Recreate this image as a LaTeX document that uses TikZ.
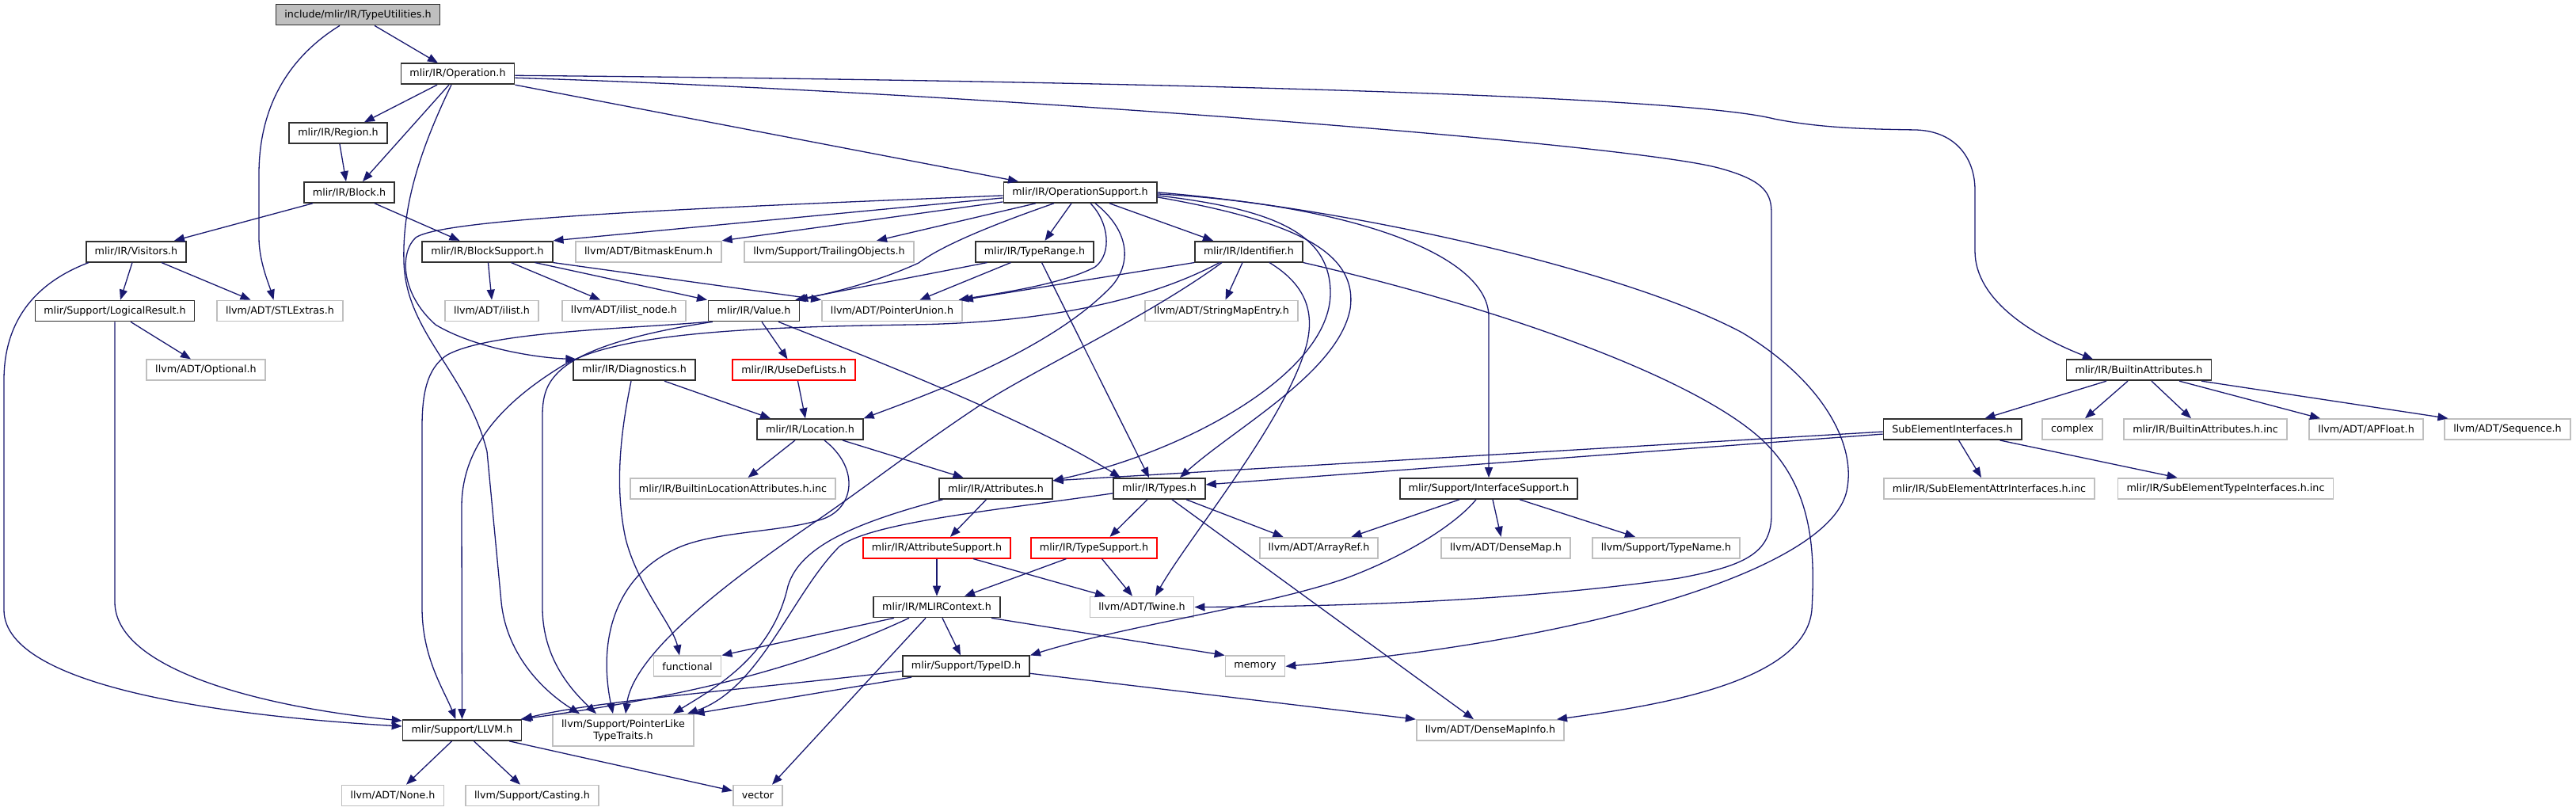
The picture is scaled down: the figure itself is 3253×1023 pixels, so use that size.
\documentclass[tikz,border=0pt]{standalone}
\usepackage{fontspec}
\newfontfamily\dxfont{DejaVu Sans}
\usetikzlibrary{arrows.meta}
\definecolor{edgecol}{HTML}{191970}
\definecolor{greyb}{HTML}{BFBFBF}
\definecolor{darkb}{HTML}{303030}
\tikzset{
  base/.style={rectangle, draw, line width=1.7pt, minimum height=26pt, inner xsep=11pt, inner ysep=2pt,
    font=\dxfont\fontsize{12.7}{15}\selectfont, fill=white, text=black},
  doc/.style={base, draw=darkb},
  ext/.style={base, draw=greyb},
  trunc/.style={base, draw=red},
  root/.style={base, draw=darkb, fill=greyb},
  e/.style={draw=edgecol, line width=1.3pt, -{Triangle[length=13pt,width=10pt]}}
}
\begin{document}
\begin{tikzpicture}[x=1pt,y=-1pt]
\fill[white] (0,0) rectangle (3253,1023);
\useasboundingbox (0,0) rectangle (3253,1023);
% ---------- nodes ----------
\node[root] (TU) at (452,18.5) {include/mlir/IR/TypeUtilities.h};
\node[doc] (Op) at (578,93.3) {mlir/IR/Operation.h};
\node[doc] (Reg) at (427,168.1) {mlir/IR/Region.h};
\node[doc] (Blk) at (441,242.9) {mlir/IR/Block.h};
\node[doc] (OpS) at (1364,242.9) {mlir/IR/OperationSupport.h};
\node[doc] (Vis) at (172,317.7) {mlir/IR/Visitors.h};
\node[doc] (BS) at (615.5,317.7) {mlir/IR/BlockSupport.h};
\node[ext] (BME) at (819,317.7) {llvm/ADT/BitmaskEnum.h};
\node[ext] (TO) at (1047,317.7) {llvm/Support/TrailingObjects.h};
\node[doc] (TR) at (1306.5,317.7) {mlir/IR/TypeRange.h};
\node[doc] (Id) at (1577,317.7) {mlir/IR/Identifier.h};
\node[doc] (LR) at (145,392.5) {mlir/Support/LogicalResult.h};
\node[ext] (STL) at (353.5,392.5) {llvm/ADT/STLExtras.h};
\node[ext] (il) at (621,392.5) {llvm/ADT/ilist.h};
\node[ext] (iln) at (788,392.5) {llvm/ADT/ilist\_node.h};
\node[doc] (Val) at (952,392.5) {mlir/IR/Value.h};
\node[ext] (PU) at (1126.5,392.5) {llvm/ADT/PointerUnion.h};
\node[ext] (SME) at (1542.5,392.5) {llvm/ADT/StringMapEntry.h};
\node[ext] (Opt) at (260,467.3) {llvm/ADT/Optional.h};
\node[doc] (Diag) at (801,467.3) {mlir/IR/Diagnostics.h};
\node[trunc] (UDL) at (1002.5,467.3) {mlir/IR/UseDefLists.h};
\node[doc] (BA) at (2701,467.3) {mlir/IR/BuiltinAttributes.h};
\node[doc] (Loc) at (1023,542.1) {mlir/IR/Location.h};
\node[doc] (SEI) at (2465.5,542.1) {SubElementInterfaces.h};
\node[ext] (cplx) at (2617,542.1) {complex};
\node[ext] (BAinc) at (2785,542.1) {mlir/IR/BuiltinAttributes.h.inc};
\node[ext] (APF) at (2988,542.1) {llvm/ADT/APFloat.h};
\node[ext] (Seq) at (3166.5,542.1) {llvm/ADT/Sequence.h};
\node[ext] (BLA) at (925.5,616.9) {mlir/IR/BuiltinLocationAttributes.h.inc};
\node[doc] (Attr) at (1257.5,616.9) {mlir/IR/Attributes.h};
\node[doc] (Ty) at (1464,616.9) {mlir/IR/Types.h};
\node[doc] (IS) at (1880,616.9) {mlir/Support/InterfaceSupport.h};
\node[ext] (SEA) at (2512,616.9) {mlir/IR/SubElementAttrInterfaces.h.inc};
\node[ext] (SET) at (2810.5,616.9) {mlir/IR/SubElementTypeInterfaces.h.inc};
\node[trunc] (AS) at (1183,691.7) {mlir/IR/AttributeSupport.h};
\node[trunc] (TS) at (1381.5,691.7) {mlir/IR/TypeSupport.h};
\node[ext] (AR) at (1665.5,691.7) {llvm/ADT/ArrayRef.h};
\node[ext] (DM) at (1901.5,691.7) {llvm/ADT/DenseMap.h};
\node[ext] (TN) at (2104,691.7) {llvm/Support/TypeName.h};
\node[doc] (MC) at (1183,766.5) {mlir/IR/MLIRContext.h};
\node[ext] (Tw) at (1442,766.5) {llvm/ADT/Twine.h};
\node[ext] (fun) at (868,841.3) {functional};
\node[doc] (TID) at (1220,841.3) {mlir/Support/TypeID.h};
\node[ext] (mem) at (1585,841.3) {memory};
\node[doc] (LLVM) at (583.5,922) {mlir/Support/LLVM.h};
\node[ext, align=center, minimum height=40pt] (PL) at (787,922) {llvm/Support/PointerLike\\TypeTraits.h};
\node[ext] (DMI) at (1882,922) {llvm/ADT/DenseMapInfo.h};
\node[ext] (None) at (496,1004.5) {llvm/ADT/None.h};
\node[ext] (Cast) at (672,1004.5) {llvm/Support/Casting.h};
\node[ext] (vec) at (957,1004.5) {vector};
% ---------- edges ----------
% TypeUtilities
\draw[e] ([xshift=21pt]TU.south) -- ([xshift=-25pt]Op.north);
\draw[e] ([xshift=-23pt]TU.south) .. controls (360,75) and (327,140) .. (327,220) -- (327,300) .. controls (327,330) and (340,360) .. ([xshift=-8pt]STL.north);
% Operation
\draw[e] ([xshift=-26pt]Op.south) -- ([xshift=33pt]Reg.north);
\draw[e] ([xshift=-11pt]Op.south) -- ([xshift=17pt]Blk.north);
\draw[e] (Op.south east) -- ([xshift=-78pt]OpS.north);
\draw[e] ([xshift=-8pt]Op.south) .. controls (530,190) and (508,260) .. (510,330) .. controls (512,420) and (590,470) .. (615,570) -- (633,760) .. controls (640,830) and (690,875) .. ([xshift=-55pt]PL.north);
\draw[e] ([yshift=-2pt]Op.east) .. controls (1200,100) and (2100,115) .. (2240,150) .. controls (2300,162) and (2360,163) .. (2420,164) .. controls (2470,166) and (2494,200) .. (2494,240) -- (2494,317) .. controls (2494,380) and (2570,425) .. ([xshift=-58pt]BA.north);
\draw[e] ([yshift=-5pt]Op.east) .. controls (1200,115) and (2050,180) .. (2170,212) .. controls (2230,228) and (2237,245) .. (2237,270) -- (2237,650) .. controls (2237,700) and (2200,715) .. (2120,730) .. controls (1900,762) and (1650,766) .. (Tw.east);
% Region, Block
\draw[e] ([xshift=2pt]Reg.south) -- ([xshift=-4pt]Blk.north);
\draw[e] ([xshift=-46pt]Blk.south) -- ([xshift=48pt]Vis.north);
\draw[e] ([xshift=32pt]Blk.south) -- ([xshift=-35pt]BS.north);
% Visitors
\draw[e] ([xshift=-5pt]Vis.south) -- ([xshift=7pt]LR.north);
\draw[e] ([xshift=32pt]Vis.south) -- ([xshift=-37pt]STL.north);
\draw[e] ([xshift=-60pt]Vis.south) .. controls (50,355) and (5,400) .. (5,480) -- (5,770) .. controls (5,870) and (300,905) .. ([yshift=5pt]LLVM.west);
% LogicalResult
\draw[e] (LR.south) -- (145,760) .. controls (145,850) and (350,895) .. ([yshift=12pt]LLVM.west);
\draw[e] ([xshift=20pt]LR.south) -- ([xshift=-19pt]Opt.north);
% BlockSupport
\draw[e] ([xshift=1pt]BS.south) -- (il.north);
\draw[e] ([xshift=30pt]BS.south) -- ([xshift=-30pt]iln.north);
\draw[e] ([xshift=60pt]BS.south) -- ([xshift=-59pt]Val.north);
\draw[e] (BS.south east) -- (PU.north west);
% OperationSupport
\draw[e] ([yshift=-4pt]OpS.west) .. controls (900,262) and (560,275) .. (525,300) .. controls (505,318) and (505,370) .. (550,410) .. controls (600,440) and (680,452) .. ([xshift=4pt]Diag.north west);
\draw[e] ([yshift=-7pt]OpS.west) -- (BS.north east);
\draw[e] ([yshift=-12pt]OpS.west) -- (BME.north east);
\draw[e] ([xshift=-56pt]OpS.south) -- ([xshift=60pt]TO.north);
\draw[e] ([xshift=-33pt]OpS.south) .. controls (1250,285) and (1190,310) .. (1160,332) .. controls (1110,355) and (1050,370) .. ([xshift=-3pt]Val.north east);
\draw[e] ([xshift=-11pt]OpS.south) -- ([xshift=13pt]TR.north);
\draw[e] ([xshift=13pt]OpS.south) .. controls (1400,280) and (1405,320) .. (1383,337) .. controls (1340,360) and (1250,372) .. ([xshift=84pt]PU.north);
\draw[e] ([xshift=19pt]OpS.south) .. controls (1425,290) and (1430,330) .. (1405,360) .. controls (1330,440) and (1180,495) .. (Loc.north east);
\draw[e] ([xshift=37pt]OpS.south) -- ([xshift=-45pt]Id.north);
\draw[e] (OpS.east) .. controls (1700,262) and (2050,340) .. (2200,420) .. controls (2300,480) and (2345,560) .. (2332,620) .. controls (2310,720) and (2000,810) .. (mem.east);
\draw[e] ([yshift=-2pt]OpS.east) .. controls (1700,258) and (1880,320) .. (1880,400) -- (IS.north);
\draw[e] ([yshift=-4pt]OpS.east) .. controls (1620,265) and (1680,300) .. (1680,370) .. controls (1680,470) and (1500,570) .. ([yshift=10pt]Attr.east);
\draw[e] ([yshift=-6pt]OpS.east) .. controls (1640,280) and (1715,320) .. (1705,390) .. controls (1690,470) and (1560,540) .. ([xshift=26pt]Ty.north);
% TypeRange
\draw[e] ([xshift=-60pt]TR.south) -- ([xshift=-6pt]Val.north east);
\draw[e] ([xshift=-30pt]TR.south) -- ([xshift=35pt]PU.north);
\draw[e] ([xshift=9pt]TR.south) -- ([xshift=-13pt]Ty.north);
% Identifier
\draw[e] (Id.south west) -- (PU.north east);
\draw[e] ([xshift=-37pt]Id.south) .. controls (1440,385) and (1300,408) .. (1150,410) .. controls (950,413) and (780,420) .. (710,462) .. controls (640,505) and (583,560) .. (583,640) -- (LLVM.north);
\draw[e] ([xshift=-34pt]Id.south) .. controls (1450,400) and (1300,470) .. (1240,510) .. controls (1150,570) and (1100,610) .. (1035,655) .. controls (940,720) and (800,820) .. ([xshift=3pt]PL.north);
\draw[e] ([xshift=-8pt]Id.south) -- ([xshift=5pt]SME.north);
\draw[e] ([xshift=26pt]Id.south) .. controls (1650,360) and (1660,395) .. (1650,435) .. controls (1625,530) and (1500,680) .. ([xshift=17pt]Tw.north);
\draw[e] (Id.south east) .. controls (1900,390) and (2150,480) .. (2230,560) .. controls (2290,620) and (2292,700) .. (2288,770) .. controls (2280,860) and (2100,890) .. ([xshift=84pt]DMI.north);
% Value
\draw[e] ([xshift=10pt]Val.south) -- ([xshift=-8pt]UDL.north);
\draw[e] ([xshift=31pt]Val.south) .. controls (1080,445) and (1300,530) .. ([xshift=-49pt]Ty.north);
\draw[e] (Val.south west) .. controls (800,415) and (620,418) .. (565,448) .. controls (538,465) and (533,500) .. (533,540) -- (533,767) .. controls (533,830) and (560,870) .. ([xshift=-8pt]LLVM.north);
\draw[e] ([xshift=6pt]Val.south west) .. controls (810,420) and (735,440) .. (705,470) .. controls (690,485) and (685,500) .. (685,525) -- (685,767) .. controls (685,830) and (720,870) .. ([xshift=-34pt]PL.north);
% UseDefLists, Diagnostics
\draw[e] ([xshift=5pt]UDL.south) -- ([xshift=-6pt]Loc.north);
\draw[e] ([xshift=38pt]Diag.south) -- ([xshift=-50pt]Loc.north);
\draw[e] ([xshift=-4pt]Diag.south) .. controls (785,540) and (775,610) .. (790,680) .. controls (805,740) and (850,790) .. ([xshift=-10pt]fun.north);
% Location
\draw[e] ([xshift=-19pt]Loc.south) -- ([xshift=19pt]BLA.north);
\draw[e] ([xshift=41pt]Loc.south) -- ([xshift=-41pt]Attr.north);
\draw[e] ([xshift=18pt]Loc.south) .. controls (1085,590) and (1080,640) .. (1040,655) .. controls (990,672) and (910,670) .. (860,690) .. controls (775,725) and (755,810) .. ([xshift=-13pt]PL.north);
% Attributes
\draw[e] ([xshift=-12pt]Attr.south) -- ([xshift=17pt]AS.north);
\draw[e] ([xshift=-67pt]Attr.south) .. controls (1080,660) and (1010,690) .. (995,740) .. controls (975,830) and (900,870) .. ([xshift=63pt]PL.north);
% Types
\draw[e] ([xshift=-15pt]Ty.south) -- ([xshift=20pt]TS.north);
\draw[e] ([xshift=34pt]Ty.south) -- ([xshift=-45pt]AR.north);
\draw[e] ([xshift=16pt]Ty.south) -- ([xshift=-21pt]DMI.north);
\draw[e] ([yshift=-6pt]Ty.west) .. controls (1250,645) and (1100,660) .. (1060,690) .. controls (1000,750) and (960,870) .. ([xshift=81pt]PL.north);
% SubElementInterfaces
\draw[e] ([yshift=-3pt]SEI.west) -- ([yshift=10pt]Attr.east);
\draw[e] ([yshift=-6pt]SEI.west) -- ([yshift=5pt]Ty.east);
\draw[e] ([xshift=8pt]SEI.south) -- ([xshift=-10pt]SEA.north);
\draw[e] ([xshift=60pt]SEI.south) -- ([xshift=-61pt]SET.north);
% BuiltinAttributes
\draw[e] ([xshift=-41pt]BA.south) -- ([xshift=41pt]SEI.north);
\draw[e] ([xshift=-14pt]BA.south) -- ([xshift=16pt]cplx.north);
\draw[e] ([xshift=16pt]BA.south) -- ([xshift=-18pt]BAinc.north);
\draw[e] ([xshift=51pt]BA.south) -- ([xshift=-58pt]APF.north);
\draw[e] ([xshift=79pt]BA.south) -- ([xshift=5pt]Seq.north west);
% AttributeSupport, TypeSupport
\draw[e] (AS.south) -- (MC.north);
\draw[e] ([xshift=46pt]AS.south) -- ([xshift=-46pt]Tw.north);
\draw[e] ([xshift=-35pt]TS.south) -- ([xshift=35pt]MC.north);
\draw[e] ([xshift=10pt]TS.south) -- ([xshift=-12pt]Tw.north);
% MLIRContext
\draw[e] ([xshift=-54pt]MC.south) -- (fun.north east);
\draw[e] ([xshift=-35pt]MC.south) .. controls (1030,835) and (900,875) .. ([xshift=-2pt]LLVM.north east);
\draw[e] ([xshift=-14pt]MC.south) -- ([xshift=18pt]vec.north);
\draw[e] ([xshift=7pt]MC.south) -- ([xshift=-7pt]TID.north);
\draw[e] ([xshift=69pt]MC.south) -- (mem.north west);
% TypeID
\draw[e] ([yshift=-6pt]TID.west) .. controls (950,870) and (750,885) .. (LLVM.north east);
\draw[e] ([xshift=-69pt]TID.south) -- (PL.north east);
\draw[e] ([yshift=-9pt]TID.east) -- (DMI.north west);
% InterfaceSupport
\draw[e] ([xshift=-37pt]IS.south) -- ([xshift=41pt]AR.north);
\draw[e] ([xshift=-16pt]IS.south) .. controls (1840,660) and (1780,700) .. (1700,730) .. controls (1600,765) and (1420,790) .. (TID.north east);
\draw[e] ([xshift=5pt]IS.south) -- ([xshift=-6pt]DM.north);
\draw[e] ([xshift=39pt]IS.south) -- ([xshift=-39pt]TN.north);
% LLVM
\draw[e] ([xshift=-13pt]LLVM.south) -- ([xshift=17pt]None.north);
\draw[e] ([xshift=15pt]LLVM.south) -- ([xshift=-15pt]Cast.north);
\draw[e] ([xshift=-16pt]LLVM.south east) -- ([yshift=6pt]vec.west);
\end{tikzpicture}
\end{document}
